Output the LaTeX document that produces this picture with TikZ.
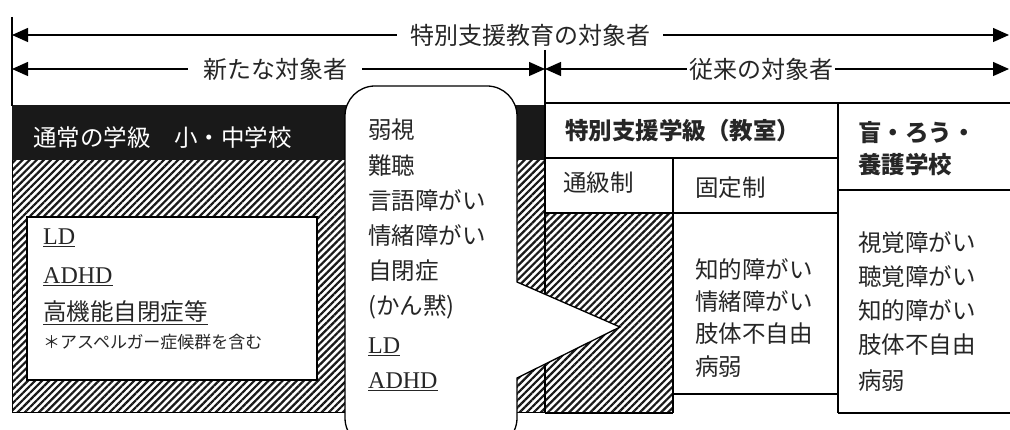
\documentclass[tikz,border=0pt]{standalone}
\usepackage{fontspec}
\setmainfont{Liberation Serif}
\newfontfamily\jp{Noto Sans CJK JP}
\usetikzlibrary{arrows.meta,patterns.meta}
\tikzset{
  ln/.style={line width=1.3pt, draw=black},
  arr/.style={ln, -{Triangle[length=16pt,width=14pt]}},
  lbl/.style={font=\jp\fontsize{24}{24}\selectfont, inner ysep=0pt, text=black!85},
  txt/.style={font=\jp\fontsize{23.5}{24}\selectfont, anchor=west, inner sep=0pt, text=black!85},
  hd/.style={txt, font=\jp\bfseries\fontsize{23.5}{24}\selectfont},
  lat/.style={font=\fontsize{24}{24}\selectfont, anchor=west, inner sep=0pt, text=black!85},
  small/.style={font=\jp\fontsize{17}{17}\selectfont, anchor=west, inner sep=0pt, text=black!85},
  hatch/.style={pattern={Lines[angle=45,distance=5pt,line width=2.2pt]}, pattern color=black!90},
}
\begin{document}
\begin{tikzpicture}[x=1pt,y=-1pt]
\useasboundingbox[fill=white] (0,0) rectangle (1010,430);

% regions
\path[hatch] (12,160) rectangle (545,413);
\draw[line width=1pt] (12,160) rectangle (545,413);
\fill[black!90] (12,105) rectangle (545,160);
\draw[ln, fill=white] (27,217) rectangle (317,380);

% table
\path[hatch] (545,213) rectangle (673,413);
\draw[ln] (545,103) -- (1010,103);
\draw[ln] (545,158) -- (838,158);
\draw[ln] (545,213) -- (838,213);
\draw[ln] (673,158) -- (673,413);
\draw[ln] (545,413) -- (673,413);
\draw[ln] (673,394) -- (838,394);
\draw[ln] (838,103) -- (838,413);
\draw[ln] (838,190) -- (1010,190);
\draw[ln] (838,413) -- (1010,413);

% vertical guide lines
\coordinate (v1top) at (12,17);
\coordinate (v1bot) at (12,106);
\draw[ln] (v1top) -- (v1bot);
\coordinate (vmtop) at (545,50);
\coordinate (vmbot) at (545,413);
\draw[ln] (vmtop) -- (vmbot);

% arrows row 1
\node[lbl, inner xsep=13pt] (t1) at (530,35) {特別支援教育の対象者};
\coordinate (L1) at (12,35);
\coordinate (R1) at (1009,35);
\draw[arr] (t1) -- (L1);
\draw[arr] (t1) -- (R1);

% arrows row 2
\node[lbl, inner xsep=15pt] (t2) at (275,69) {新たな対象者};
\coordinate (L2) at (12,69);
\coordinate (M2) at (545,69);
\coordinate (R2) at (1009,69);
\draw[arr] (t2) -- (L2);
\draw[arr] (t2) -- (M2);
\node[lbl, inner xsep=2pt] (t3) at (761,69) {従来の対象者};
\draw[arr] (t3) -- (M2);
\draw[arr] (t3) -- (R2);

% bubble
\draw[ln, fill=white] (430,86) [rounded corners=30pt] -- (517,86) [sharp corners] -- (517,282) -- (620,327) -- (517,378) [rounded corners=30pt] -- (517,448) -- (345,448) -- (345,86) -- cycle;

% texts: left
\node[txt, text=white] (n0) at (33,138) {通常の学級　小・中学校};
\node[lat] (a1) at (43,238) {\underline{LD}};
\node[lat] (a2) at (43,277) {\underline{ADHD}};
\node[txt] (a3) at (43,313) {\underline{高機能自閉症等}};
\node[small] (a4) at (43,342) {＊アスペルガー症候群を含む};

% bubble texts
\node[txt] (b1) at (368,130) {弱視};
\node[txt] (b2) at (368,166) {難聴};
\node[txt] (b3) at (368,201) {言語障がい};
\node[txt] (b4) at (368,236) {情緒障がい};
\node[txt] (b5) at (368,271) {自閉症};
\node[txt] (b6) at (368,307) {(かん黙)};
\node[lat] (b7) at (368,347) {\underline{LD}};
\node[lat] (b8) at (368,382) {\underline{ADHD}};

% middle column
\node[hd] (c0) at (565,131) {特別支援学級（教室）};
\node[txt] (c1) at (563,183) {通級制};
\node[txt] (c2) at (695,188) {固定制};
\node[txt] (c3) at (695,270) {知的障がい};
\node[txt] (c4) at (695,302) {情緒障がい};
\node[txt] (c5) at (695,334) {肢体不自由};
\node[txt] (c6) at (695,367) {病弱};

% right column
\node[hd] (d0) at (858,133) {盲・ろう・};
\node[hd] (d1) at (858,165) {養護学校};
\node[txt] (d2) at (858,243) {視覚障がい};
\node[txt] (d3) at (858,277) {聴覚障がい};
\node[txt] (d4) at (858,311) {知的障がい};
\node[txt] (d5) at (858,345) {肢体不自由};
\node[txt] (d6) at (858,381) {病弱};
\end{tikzpicture}
\end{document}
